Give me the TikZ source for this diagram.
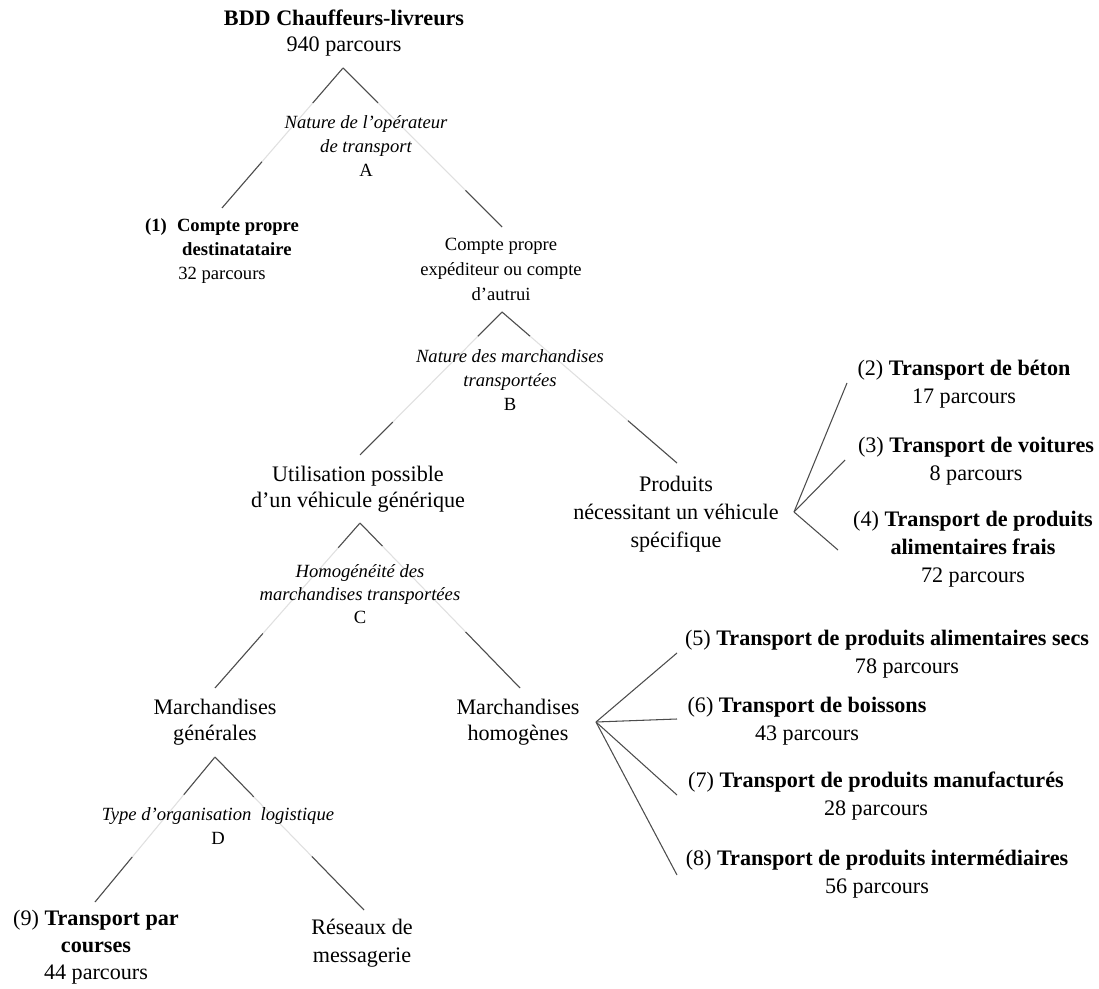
\documentclass[tikz,border=0pt]{standalone}
\usepackage{fontspec}
\setmainfont{Liberation Serif}
\usetikzlibrary{calc}
\tikzset{
  big/.style={font=\fontsize{12.6}{15.4}\selectfont, align=center, inner sep=0pt},
  small/.style={font=\fontsize{10.6}{13.8}\selectfont, align=center, inner sep=0pt},
  darkline/.style={draw=black!70, line width=0.6pt},
  faintline/.style={draw=black!12, line width=0.6pt},
}
\newcommand{\brline}[4]{%
  \draw[faintline] (#1) -- (#2);
  \draw[darkline] (#1) -- ($(#1)!#3!(#2)$);
  \draw[darkline] ($(#1)!#4!(#2)$) -- (#2);}
\begin{document}
\begin{tikzpicture}[x=0.02cm, y=-0.02cm]
\useasboundingbox[fill=white] (0,0) rectangle (1099,989);

% ---- connector points ----
\coordinate (apA) at (343,68);
\coordinate (endA1) at (222,208);
\coordinate (endA2) at (502,227);
\coordinate (apB) at (502,312);
\coordinate (endB1) at (360,455);
\coordinate (endB2) at (677,463);
\coordinate (apC) at (360,523);
\coordinate (endC1) at (215,688);
\coordinate (endC2) at (520,688);
\coordinate (apD) at (215,757);
\coordinate (endD1) at (95,902);
\coordinate (endD2) at (364,910);
\coordinate (apP) at (794,512);
\coordinate (endP2) at (847,383);
\coordinate (endP3) at (845,460);
\coordinate (endP4) at (838,550);
\coordinate (apH) at (596,722);
\coordinate (endH5) at (677,653);
\coordinate (endH6) at (677,719);
\coordinate (endH7) at (677,795);
\coordinate (endH8) at (677,875);

% ---- tree branches ----
\brline{apA}{endA1}{0.25}{0.67}
\brline{apA}{endA2}{0.22}{0.77}
\brline{apB}{endB1}{0.17}{0.77}
\brline{apB}{endB2}{0.16}{0.72}
\brline{apC}{endC1}{0.15}{0.67}
\brline{apC}{endC2}{0.14}{0.66}
\brline{apD}{endD1}{0.26}{0.69}
\brline{apD}{endD2}{0.26}{0.65}

% ---- fans ----
\draw[darkline] (apP) -- (endP2);
\draw[darkline] (apP) -- (endP3);
\draw[darkline] (apP) -- (endP4);
\draw[darkline] (apH) -- (endH5);
\draw[darkline] (apH) -- (endH6);
\draw[darkline] (apH) -- (endH7);
\draw[darkline] (apH) -- (endH8);

% ---- nodes ----
\node[big, font=\fontsize{12.6}{14.8}\selectfont] (root) at (344,33) {\textbf{BDD Chauffeurs-livreurs}\\940 parcours};
\node[small] (labA) at (366,146) {{\itshape Nature de l’opérateur}\\{\itshape de transport}\\A};
\node[small] (n1) at (222,251) {\textbf{(1)}\hspace{0.55em}\textbf{Compte propre}\\\hspace*{1.6em}\textbf{destinatataire}\\32 parcours};
\node[small, font=\fontsize{10.6}{14.2}\selectfont] (cpe) at (501,269) {Compte propre\\expéditeur ou compte\\d’autrui};
\node[small] (labB) at (510,380) {{\itshape Nature des marchandises}\\{\itshape transportées}\\B};
\node[big, font=\fontsize{12.6}{14.8}\selectfont] (util) at (358,489) {Utilisation possible\\d’un véhicule générique};
\node[big, font=\fontsize{12.6}{15.9}\selectfont] (prod) at (676,514) {Produits\\nécessitant un véhicule\\spécifique};
\node[small, font=\fontsize{10.6}{13.2}\selectfont] (labC) at (360,594) {{\itshape Homogénéité des}\\{\itshape marchandises transportées}\\C};
\node[big, font=\fontsize{12.6}{14.8}\selectfont] (mg) at (215,722) {Marchandises\\générales};
\node[big, font=\fontsize{12.6}{14.8}\selectfont] (mh) at (518,722) {Marchandises\\homogènes};
\node[small, font=\fontsize{10.6}{13.2}\selectfont] (labD) at (218,826) {{\itshape Type d’organisation\ \ logistique}\\D};
\node[big, font=\fontsize{12.6}{15.2}\selectfont] (n9) at (96,947) {(9) \textbf{Transport par}\\\textbf{courses}\\44 parcours};
\node[big, font=\fontsize{12.6}{15.9}\selectfont] (res) at (362,943) {Réseaux de\\messagerie};

\node[big, font=\fontsize{12.6}{15.6}\selectfont] (n2) at (964,384) {(2) \textbf{Transport de béton}\\17 parcours};
\node[big, font=\fontsize{12.6}{15.8}\selectfont] (n3) at (976,461) {(3) \textbf{Transport de voitures}\\8 parcours};
\node[big, font=\fontsize{12.6}{15.8}\selectfont] (n4) at (973,549) {(4) \textbf{Transport de produits}\\\textbf{alimentaires frais}\\72 parcours};
\node[big, font=\fontsize{12.6}{15.8}\selectfont] (n5) at (887,654) {(5) \textbf{Transport de produits alimentaires secs}\\\hspace*{1.8em}78 parcours};
\node[big, font=\fontsize{12.6}{15.8}\selectfont] (n6) at (807,721) {(6) \textbf{Transport de boissons}\\43 parcours};
\node[big, font=\fontsize{12.6}{15.8}\selectfont] (n7) at (876,796) {(7) \textbf{Transport de produits manufacturés}\\28 parcours};
\node[big, font=\fontsize{12.6}{15.8}\selectfont] (n8) at (877,874) {(8) \textbf{Transport de produits intermédiaires}\\56 parcours};
\end{tikzpicture}
\end{document}
